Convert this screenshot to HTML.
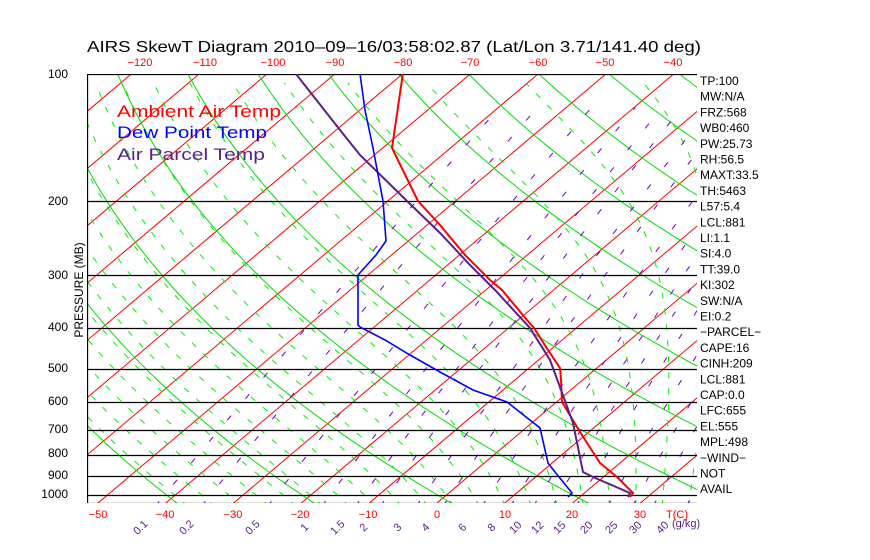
<!DOCTYPE html>
<html><head><meta charset="utf-8"><style>
html,body{margin:0;padding:0;background:#fff;}
svg{display:block;font-family:"Liberation Sans",sans-serif;}
</style></head><body>
<svg id="s" width="870" height="560" xmlns="http://www.w3.org/2000/svg">
<defs><clipPath id="c"><rect x="87" y="74" width="610" height="429"/></clipPath></defs>
<g id="g" clip-path="url(#c)"></g>
<g id="t"></g>
</svg>
<script>
var NS="http://www.w3.org/2000/svg",g=document.getElementById('g'),tg=document.getElementById('t');
function Y(p){return 74+183*Math.log(p/100);}
function X(T,y){return 437+6.78*T+(503-y)*1.184;}
function el(par,n,a,txt){var e=document.createElementNS(NS,n);for(var k in a)e.setAttribute(k,a[k]);if(txt!=null)e.textContent=txt;par.appendChild(e);return e;}
function pl(pts,st,w,da){el(g,'polyline',{points:pts.map(function(q){return q[0].toFixed(1)+','+q[1].toFixed(1)}).join(' '),fill:'none',stroke:st,'stroke-width':w||1,'stroke-dasharray':da||'none'});}
for(var T=-200;T<=60;T+=10){pl([[X(T,503),503],[X(T,74),74]],'#ff0000',1);}
for(var th=192;th<=600;th+=20){var pts=[];for(var p=1060;p>=95;p-=10){var y=Y(p);var Tc=th*Math.pow(p/1000,0.286)-273.15;pts.push([X(Tc,y),y]);}pl(pts,'#00dd00',1);}
function es(Tc){return 6.112*Math.exp(17.67*Tc/(Tc+243.5));}
function dT(Td,pp){var e=es(Td-273.15);var rs=0.622*e/(pp-e);return (287*Td+2.5e6*rs)/(1004+2.5e6*2.5e6*rs*0.622/(287*Td*Td))/pp;}
for(var T0=-40;T0<=44;T0+=4){var pts=[];var Td=T0+273.15;
 for(var pp=1000;pp<1060;pp+=5){Td+=dT(Td,pp)*5;}
 var Tk=Td,p=1060;
 while(p>100){var y=Y(p);pts.push([X(Tk-273.15,y),y]);Tk-=dT(Tk,p)*5;p-=5;}
 pl(pts,'#00ee00',1,'6,10');}
var ws=[0.1,0.2,0.5,1,1.5,2,3,4,6,8,10,12,15,20,25,30,40];
ws.forEach(function(w){var pts=[];for(var p=1060;p>=120;p-=10){var e=w/1000*p/(0.622+w/1000);var L=Math.log(e/6.112);var Tc=243.5*L/(17.67-L);var y=Y(p);pts.push([X(Tc,y),y]);}pl(pts,'#6a00c8',1,'6,22');});
[100,200,300,400,500,600,700,800,900,1000].forEach(function(p){var y=Math.round(Y(p))+0.5;pl([[87,y],[697,y]],'#000',1.3);});
pl([[87,503.5],[697,503.5]],'#000',1.3);
pl([[87.5,74],[87.5,503]],'#000',1.3);
pl([[403,73],[392,148],[418,201],[440,225],[465,255],[490,280],[502,290],[527,320],[534,328],[548,350],[560,368],[561,380],[562,402],[580,432],[600,463],[617,477],[633,493],[630,497]],'#ff0000',2);
pl([[296,74],[340,130],[360,155],[407,201],[440,233],[470,265],[495,290],[530,328],[550,360],[560,387],[573,423],[583,472],[593,477],[630,493],[628,497]],'#5a1f8a',2);
pl([[360,74],[365,110],[373,148],[383,201],[386,241],[376,255],[358,275],[358,325],[360,327],[385,340],[410,355],[440,372],[473,390],[507,402],[540,428],[548,463],[555,472],[572,493],[568,497]],'#0000ff',1.6);
el(tg,'text',{x:87,y:52,'font-size':16,fill:'#000',textLength:614,lengthAdjust:'spacingAndGlyphs'},'AIRS SkewT Diagram 2010\u201309\u201316/03:58:02.87 (Lat/Lon 3.71/141.40 deg)');
[[-120,140],[-110,205],[-100,273],[-90,335],[-80,403],[-70,470],[-60,538],[-50,605],[-40,673]].forEach(function(a){el(tg,'text',{x:a[1],y:66,'font-size':11,fill:'#ff0000','text-anchor':'middle'},'\u2212'+(-a[0]));});
[[-50,98],[-40,165],[-30,233],[-20,300],[-10,368],[0,437],[10,505],[20,572],[30,640]].forEach(function(a){el(tg,'text',{x:a[1],y:518,'font-size':11,fill:'#ff0000','text-anchor':'middle'},a[0]<0?'\u2212'+(-a[0]):a[0]);});
el(tg,'text',{x:666,y:518,'font-size':11,fill:'#ff0000'},'T(C)');
[['0.1',143],['0.2',189],['0.5',255],['1',307],['1.5',340],['2',366],['3',400],['4',428],['6',465],['8',494],['10',518],['12',540],['15',562],['20',589],['25',614],['30',638],['40',665]].forEach(function(a){el(tg,'text',{x:a[1],y:530,'font-size':11,fill:'#5a1f8a','text-anchor':'middle',transform:'rotate(-45 '+a[1]+' 530)'},a[0]);});
el(tg,'text',{x:672,y:527,'font-size':11,fill:'#5a1f8a'},'(g/kg)');
[[100,78],[200,205],[300,279],[400,331],[500,372],[600,405],[700,433],[800,457],[900,479],[1000,498]].forEach(function(a){el(tg,'text',{x:68,y:a[1],'font-size':12,fill:'#000','text-anchor':'end'},a[0]);});
el(tg,'text',{x:0,y:0,'font-size':12,fill:'#000','text-anchor':'middle',transform:'translate(83,290) rotate(-90)'},'PRESSURE (MB)');
el(tg,'text',{x:117,y:117,'font-size':17,fill:'#ff0000',textLength:164,lengthAdjust:'spacingAndGlyphs'},'Ambient Air Temp');
el(tg,'text',{x:117,y:138,'font-size':17,fill:'#0000ff',textLength:150,lengthAdjust:'spacingAndGlyphs'},'Dew Point Temp');
el(tg,'text',{x:117,y:160,'font-size':17,fill:'#5a1f8a',textLength:148,lengthAdjust:'spacingAndGlyphs'},'Air Parcel Temp');
var lab=['TP:100','MW:N/A','FRZ:568','WB0:460','PW:25.73','RH:56.5','MAXT:33.5','TH:5463','L57:5.4','LCL:881','LI:1.1','SI:4.0','TT:39.0','KI:302','SW:N/A',' EI:0.2','\u2212PARCEL\u2212','CAPE:16','CINH:209','LCL:881','CAP:0.0','LFC:655','EL:555','MPL:498','\u2212WIND\u2212',' NOT',' AVAIL'];
lab.forEach(function(s,i){el(tg,'text',{x:700,y:85+i*15.7,'font-size':12,fill:'#000','xml:space':'preserve'},s);});
</script>
</body></html>
